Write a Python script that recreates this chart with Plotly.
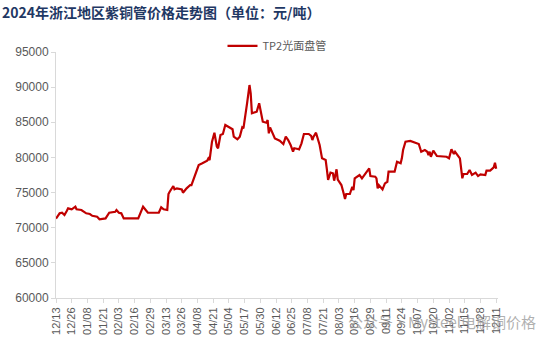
import plotly.graph_objects as go

# ---- data ----
dates = [
    "2023-12-13", "2023-12-16", "2023-12-18", "2023-12-20", "2023-12-22", "2023-12-23",
    "2023-12-26", "2023-12-29", "2023-12-30", "2024-01-03", "2024-01-07", "2024-01-10",
    "2024-01-12", "2024-01-16", "2024-01-18", "2024-01-23", "2024-01-26", "2024-01-31",
    "2024-02-01", "2024-02-03", "2024-02-05", "2024-02-07", "2024-02-19", "2024-02-21",
    "2024-02-23", "2024-02-27", "2024-03-07", "2024-03-09", "2024-03-11", "2024-03-14",
    "2024-03-15", "2024-03-16", "2024-03-19", "2024-03-20", "2024-03-22", "2024-03-26",
    "2024-03-27", "2024-03-30", "2024-04-02", "2024-04-03", "2024-04-09", "2024-04-12",
    "2024-04-16", "2024-04-17", "2024-04-18", "2024-04-20", "2024-04-22", "2024-04-24",
    "2024-04-25", "2024-04-27", "2024-04-29", "2024-05-01", "2024-05-05", "2024-05-07",
    "2024-05-08", "2024-05-11", "2024-05-13", "2024-05-15", "2024-05-16", "2024-05-17",
    "2024-05-19", "2024-05-21", "2024-05-22", "2024-05-23", "2024-05-27", "2024-05-29",
    "2024-05-30", "2024-06-01", "2024-06-04", "2024-06-05", "2024-06-06", "2024-06-07",
    "2024-06-11", "2024-06-15", "2024-06-18", "2024-06-20", "2024-06-22", "2024-06-24",
    "2024-06-26", "2024-06-27", "2024-06-30", "2024-07-01", "2024-07-03", "2024-07-05",
    "2024-07-09", "2024-07-11", "2024-07-12", "2024-07-13", "2024-07-15", "2024-07-18",
    "2024-07-20", "2024-07-23", "2024-07-24", "2024-07-25", "2024-07-27", "2024-07-29",
    "2024-07-30", "2024-08-01", "2024-08-02", "2024-08-04", "2024-08-05", "2024-08-07",
    "2024-08-08", "2024-08-09", "2024-08-12", "2024-08-14", "2024-08-15", "2024-08-16",
    "2024-08-19", "2024-08-20", "2024-08-22", "2024-08-24", "2024-08-26", "2024-08-28",
    "2024-08-29", "2024-09-02", "2024-09-03", "2024-09-04", "2024-09-05", "2024-09-08",
    "2024-09-10", "2024-09-12", "2024-09-13", "2024-09-18", "2024-09-20", "2024-09-23",
    "2024-09-24", "2024-09-25", "2024-09-27", "2024-10-01", "2024-10-08", "2024-10-10",
    "2024-10-13", "2024-10-15", "2024-10-16", "2024-10-17", "2024-10-18", "2024-10-20",
    "2024-10-23", "2024-10-27", "2024-10-31", "2024-11-02", "2024-11-04", "2024-11-06",
    "2024-11-07", "2024-11-11", "2024-11-13", "2024-11-14", "2024-11-17", "2024-11-19",
    "2024-11-21", "2024-11-24", "2024-11-26", "2024-11-28", "2024-12-02", "2024-12-03",
    "2024-12-06", "2024-12-09", "2024-12-10", "2024-12-11",
]
tp2_price = [
    71300, 72050, 72130, 71800, 72420, 72760,
    72620, 72990, 72620, 72520, 72050, 71950,
    71700, 71560, 71190, 71330, 72130, 72270,
    72520, 72130, 72050, 71330, 71330, 72050,
    72990, 72130, 72130, 72900, 72620, 72520,
    74800, 75120, 75930, 75460, 75600, 75460,
    74980, 75600, 76070, 76070, 78920, 79160,
    79530, 79870, 79630, 82240, 83520, 81530,
    81300, 83190, 83330, 84610, 84280, 84000,
    82950, 82580, 82950, 84280, 84140, 85560,
    87700, 90300, 89120, 86280, 86510, 87700,
    86750, 85080, 84940, 85320, 83430, 84280,
    82710, 82380, 81910, 82950, 82480, 81770,
    80810, 81300, 81200, 81150, 82000, 83330,
    83330, 83050, 82480, 82950, 83520, 81770,
    79870, 79630, 78310, 76790, 77830, 77740,
    76690, 78310, 76840, 76310, 76070, 74800,
    74080, 74800, 74800, 75830, 75360, 77030,
    77350, 77500, 77030, 77500, 77970, 78450,
    77350, 77260, 77030, 75600, 76070, 75460,
    76310, 76540, 77970, 77970, 79390, 79160,
    79870, 81060, 82240, 82340, 81910, 80810,
    81060, 80810, 80340, 80810, 80100, 80960,
    80200, 80100, 80100, 79870, 81150, 80490,
    80810, 79870, 77030, 77640, 77640, 78210,
    77500, 77830, 77350, 77590, 77500, 78120,
    78120, 78590, 79250, 78400,
]
tick_dates = [
    "2023-12-13", "2023-12-26", "2024-01-08", "2024-01-21", "2024-02-03", "2024-02-16",
    "2024-02-29", "2024-03-13", "2024-03-26", "2024-04-08", "2024-04-21", "2024-05-04",
    "2024-05-17", "2024-05-30", "2024-06-12", "2024-06-25", "2024-07-08", "2024-07-21",
    "2024-08-03", "2024-08-16", "2024-08-29", "2024-09-11", "2024-09-24", "2024-10-07",
    "2024-10-20", "2024-11-02", "2024-11-15", "2024-11-28", "2024-12-11",
]
tick_labels = [
    "12/13", "12/26", "01/08", "01/21", "02/03", "02/16", "02/29", "03/13", "03/26",
    "04/08", "04/21", "05/04", "05/17", "05/30", "06/12", "06/25", "07/08", "07/21",
    "08/03", "08/16", "08/29", "09/11", "09/24", "10/07", "10/20", "11/02", "11/15",
    "11/28", "12/11",
]
series_name = "TP2光面盘管"
title_text = "2024年浙江地区紫铜管价格走势图（单位：元/吨）"
watermark = "公众号·Mysteel电解铜价格"

fig = go.Figure()
fig.add_trace(go.Scatter(
    x=dates, y=tp2_price, mode="lines", name=series_name,
    line=dict(color="#C00000", width=2.2),
))

fig.update_layout(
    width=554, height=344,
    margin=dict(l=56, r=56, t=52, b=46, autoexpand=False),
    paper_bgcolor="white", plot_bgcolor="white",
    showlegend=True,
    legend=dict(
        orientation="h", x=0.5, xanchor="center", y=1.025, yanchor="middle",
        font=dict(family="Noto Sans CJK SC, serif", size=11, color="#595959"),
        bgcolor="rgba(0,0,0,0)",
    ),
)
fig.add_annotation(
    text="<b>" + title_text + "</b>", xref="paper", yref="paper",
    x=-56 / 442, y=1 + (52 - 12) / 246, xanchor="left", yanchor="middle",
    showarrow=False,
    font=dict(family="Noto Sans CJK SC", size=14, color="#1F3864"),
)
fig.add_annotation(
    text=watermark, xref="paper", yref="paper",
    x=(538 - 56) / 442, y=(298 - 321) / 246, xanchor="right", yanchor="middle",
    showarrow=False,
    font=dict(family="Noto Sans CJK SC", size=15, color="rgba(150,150,150,0.75)"),
)

fig.update_xaxes(
    type="date", automargin=False,
    range=["2023-12-13", "2024-12-12 12:00"],
    tickmode="array", tickvals=tick_dates, ticktext=tick_labels,
    tickangle=-90,
    tickfont=dict(family="Liberation Sans", size=11, color="#595959"),
    showline=True, linecolor="#D9D9D9", linewidth=1,
    ticks="outside", tickcolor="#D9D9D9", ticklen=4,
    showgrid=False, zeroline=False,
)
fig.update_yaxes(
    automargin=False,
    range=[60000, 95000], dtick=5000, tick0=60000,
    tickformat="d",
    tickfont=dict(family="Liberation Sans", size=12, color="#595959"),
    showline=True, linecolor="#D9D9D9", linewidth=1,
    ticks="outside", tickcolor="#D9D9D9", ticklen=4,
    showgrid=False, zeroline=False,
)

fig.write_html("out.html")
